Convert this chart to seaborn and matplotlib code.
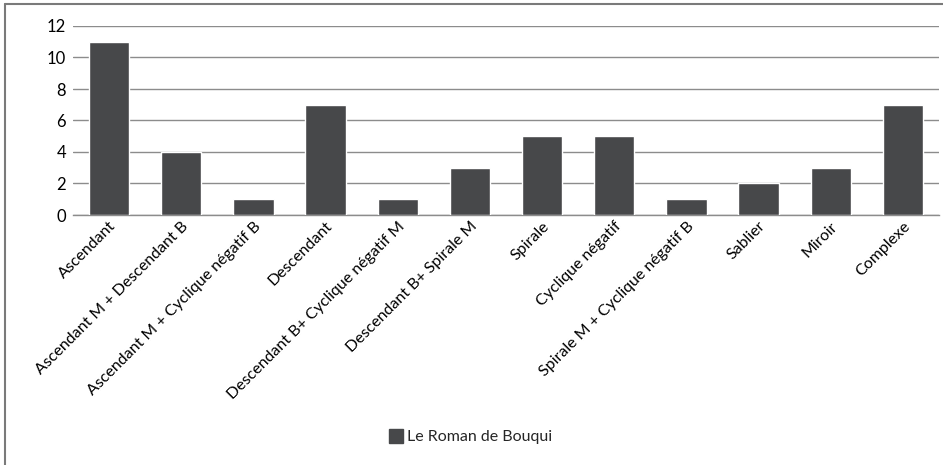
import matplotlib
matplotlib.use("Agg")
import matplotlib.pyplot as plt
from matplotlib.lines import Line2D
import seaborn as sns
import pandas as pd

categories = [
    "Ascendant",
    "Ascendant M + Descendant B",
    "Ascendant M + Cyclique négatif B",
    "Descendant",
    "Descendant B+ Cyclique négatif M",
    "Descendant B+ Spirale M",
    "Spirale",
    "Cyclique négatif",
    "Spirale M + Cyclique négatif B",
    "Sablier",
    "Miroir",
    "Complexe",
]
counts = [11, 4, 1, 7, 1, 3, 5, 5, 1, 2, 3, 7]
series_name = "Le Roman de Bouqui"
y_ticks = [0, 2, 4, 6, 8, 10, 12]

df = pd.DataFrame({"type": categories, "n": counts, "serie": series_name})

sns.set_theme(style="white")
plt.rcParams["font.family"] = ["Lato", "DejaVu Sans"]

W, H = 943, 465
fig = plt.figure(figsize=(W / 100, H / 100), dpi=100)
ax = fig.add_axes([73 / W, 1 - 215 / H, (939 - 73) / W, (215 - 26) / H])

bar_color = "#47484a"
sns.barplot(data=df, x="type", y="n", hue="serie", palette=[bar_color],
            width=0.56, ax=ax, legend=False, zorder=3)

ax.set_ylim(0, 12)
ax.set_yticks(y_ticks)
ax.set_yticklabels([str(t) for t in y_ticks], fontsize=12, color="#000000")
ax.yaxis.grid(True, color="#8c8c8c", linewidth=1.0, zorder=0)
ax.set_axisbelow(True)
for side in ["top", "right", "left"]:
    ax.spines[side].set_visible(False)
ax.spines["bottom"].set_color("#8c8c8c")
ax.spines["bottom"].set_linewidth(1.0)
ax.tick_params(axis="y", length=0, pad=5)
ax.tick_params(axis="x", length=0, pad=3)
ax.set_xticks(range(len(categories)))
ax.set_xticklabels(categories, rotation=45, ha="right", rotation_mode="anchor",
                   fontsize=11.5, color="#000000")
ax.set_xlabel("")
ax.set_ylabel("")
ax.set_xlim(-0.5, len(categories) - 0.5)

handle = Line2D([], [], marker="s", linestyle="none", markersize=10,
                markerfacecolor=bar_color, markeredgecolor=bar_color)
fig.legend([handle], [series_name], loc="center", bbox_to_anchor=(470 / W, 1 - 437 / H),
           frameon=False, fontsize=11.5, handletextpad=0.2, handlelength=1.0)

# outer frame (top and left edges)
fig.add_artist(Line2D([4.5 / W, 4.5 / W], [0, 1 - 4.5 / H], transform=fig.transFigure,
                      color="#7a7a7a", linewidth=1.5))
fig.add_artist(Line2D([4.5 / W, 1], [1 - 4.5 / H, 1 - 4.5 / H], transform=fig.transFigure,
                      color="#7a7a7a", linewidth=1.5))

fig.savefig("out.png", dpi=100, facecolor="white")
